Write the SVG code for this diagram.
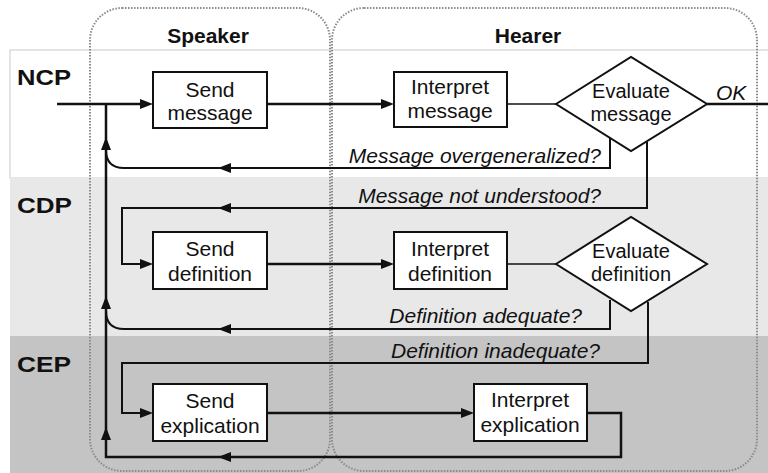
<svg xmlns="http://www.w3.org/2000/svg" width="768" height="473" viewBox="0 0 768 473">
<style>
text{font-family:"Liberation Sans",Arial,sans-serif;fill:#111}
.lbl{font-size:21px;text-anchor:middle}
.dl{font-size:20px;text-anchor:middle}
.it{font-size:21px;font-style:italic}
.hd{font-size:21px;font-weight:bold;text-anchor:middle}
.ph{font-size:22px;font-weight:bold}
.box{fill:#fff;stroke:#111;stroke-width:2}
.zone{fill:none;stroke:#8a8a8a;stroke-width:2;stroke-dasharray:1.5 1.5}
.ln{fill:none;stroke:#111;stroke-width:2.5}
.fb{fill:none;stroke:#111;stroke-width:2}
.thin{fill:none;stroke:#111;stroke-width:1.5}
.ah{fill:#111}
</style>
<rect width="768" height="473" fill="#fff"/>
<g id="bands">
<rect x="10" y="50" width="760" height="128" fill="#fff" stroke="#dcdcdc" stroke-width="1.5"/>
<rect x="10" y="178" width="760" height="158" fill="#e8e8e8"/>
<rect x="10" y="336" width="760" height="140" fill="#c4c4c4"/>
<text class="ph" x="17" y="85" textLength="54" lengthAdjust="spacingAndGlyphs">NCP</text>
<text class="ph" x="17" y="213" textLength="55" lengthAdjust="spacingAndGlyphs">CDP</text>
<text class="ph" x="17" y="372" textLength="54" lengthAdjust="spacingAndGlyphs">CEP</text>
</g>
<g id="speaker">
<rect class="zone" x="90" y="8" width="240" height="463" rx="32"/>
<text class="hd" x="208" y="43">Speaker</text>
</g>
<g id="hearer">
<rect class="zone" x="332" y="8" width="425" height="463" rx="32"/>
<text class="hd" x="528" y="43">Hearer</text>
</g>
<g id="connectors">
<path class="ln" d="M57,104 H142"/>
<polygon class="ah" points="153,104 140,99 140,109"/>
<path class="ln" d="M267,104 H383"/>
<polygon class="ah" points="394,104 381,99 381,109"/>
<path class="thin" d="M507,104 H556"/>
<path class="ln" d="M707,104 H768"/>
<text class="it" x="716" y="100">OK</text>
<path class="ln" d="M106,104 V457 H621 V413 H587"/>
<polygon class="ah" points="106,137 101,150 111,150"/>
<polygon class="ah" points="106,296 101,309 111,309"/>
<polygon class="ah" points="106,427 101,440 111,440"/>
<polygon class="ah" points="218,457 231,452 231,462"/>
<path class="fb" d="M610,137 V168 H124 Q106,168 106,150"/>
<polygon class="ah" points="218,168 231,163 231,173"/>
<text class="it" x="601" y="163" text-anchor="end">Message overgeneralized?</text>
<path class="fb" d="M647,142 V208 H122 V264 H142"/>
<polygon class="ah" points="218,208 231,203 231,213"/>
<polygon class="ah" points="153,264 140,259 140,269"/>
<text class="it" x="601" y="203" text-anchor="end">Message not understood?</text>
<path class="ln" d="M267,264 H383"/>
<polygon class="ah" points="394,264 381,259 381,269"/>
<path class="thin" d="M507,264 H556"/>
<path class="fb" d="M610,300 V329 H124 Q106,329 106,311"/>
<polygon class="ah" points="218,329 231,324 231,334"/>
<text class="it" x="582" y="323" text-anchor="end">Definition adequate?</text>
<path class="fb" d="M648,302 V363 H122 V413 H142"/>
<polygon class="ah" points="153,413 140,408 140,418"/>
<text class="it" x="600" y="358" text-anchor="end">Definition inadequate?</text>
<path class="ln" d="M267,413 H463"/>
<polygon class="ah" points="474,413 461,408 461,418"/>
</g>
<g id="send-message">
<rect class="box" x="153" y="72" width="114" height="56"/>
<text class="lbl" x="210" y="97">Send</text>
<text class="lbl" x="210" y="120">message</text>
</g>
<g id="interpret-message">
<rect class="box" x="394" y="72" width="113" height="55"/>
<text class="lbl" x="450" y="94">Interpret</text>
<text class="lbl" x="450" y="118">message</text>
</g>
<g id="evaluate-message">
<polygon class="box" points="556,104 631,57 707,104 631,151"/>
<text class="dl" x="631" y="98">Evaluate</text>
<text class="dl" x="631" y="121">message</text>
</g>
<g id="send-definition">
<rect class="box" x="153" y="232" width="114" height="57"/>
<text class="lbl" x="210" y="256">Send</text>
<text class="lbl" x="210" y="281">definition</text>
</g>
<g id="interpret-definition">
<rect class="box" x="394" y="232" width="113" height="57"/>
<text class="lbl" x="450" y="256">Interpret</text>
<text class="lbl" x="450" y="281">definition</text>
</g>
<g id="evaluate-definition">
<polygon class="box" points="556,264 631,217 707,264 631,311"/>
<text class="dl" x="631" y="258">Evaluate</text>
<text class="dl" x="631" y="281">definition</text>
</g>
<g id="send-explication">
<rect class="box" x="153" y="384" width="114" height="57"/>
<text class="lbl" x="210" y="408">Send</text>
<text class="lbl" x="210" y="433">explication</text>
</g>
<g id="interpret-explication">
<rect class="box" x="474" y="384" width="113" height="57"/>
<text class="lbl" x="530" y="407">Interpret</text>
<text class="lbl" x="530" y="432">explication</text>
</g>
</svg>
